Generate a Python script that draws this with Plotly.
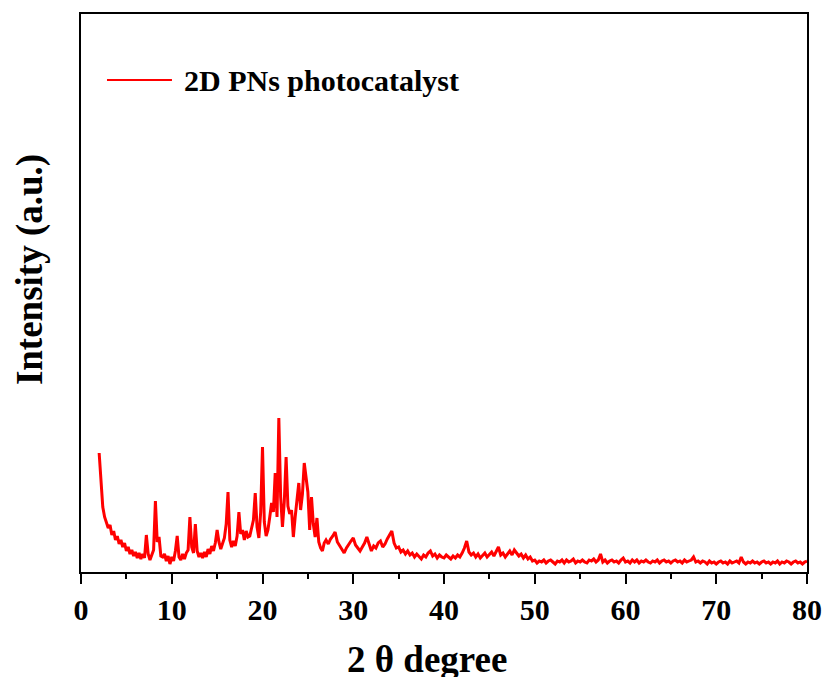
import plotly.graph_objects as go

# XRD pattern (2θ in degrees, intensity in arbitrary units)
two_theta_low = [
    2.0, 2.2, 2.4, 2.6, 2.8, 3.0, 3.2, 3.4, 3.6, 3.8, 4.0, 4.2, 4.4, 4.6, 4.8,
    5.0, 5.2, 5.4, 5.6, 5.8, 6.0, 6.2, 6.4, 6.6, 6.8, 7.0, 7.2, 7.4, 7.6, 7.8,
    8.0, 8.2, 8.4, 8.6, 8.8, 9.0, 9.2, 9.4, 9.6, 9.8, 10.0, 10.2, 10.4, 10.6, 10.8,
    11.0, 11.2, 11.4, 11.6, 11.8, 12.0, 12.2, 12.4, 12.6, 12.8, 13.0, 13.2, 13.4, 13.6, 13.8,
    14.0, 14.2, 14.4, 14.6, 14.8, 15.0, 15.2, 15.4, 15.6, 15.8, 16.0, 16.2, 16.4, 16.6, 16.8,
    17.0, 17.2, 17.4, 17.6, 17.8, 18.0, 18.2, 18.4, 18.6, 18.8, 19.0, 19.2, 19.4, 19.6, 19.8,
    20.0, 20.2, 20.4, 20.6, 20.8, 21.0, 21.2, 21.4, 21.6, 21.8, 22.0, 22.2, 22.4, 22.6, 22.8,
    23.0, 23.2, 23.4, 23.6, 23.8, 24.0, 24.2, 24.4, 24.6, 24.8, 25.0, 25.2, 25.4, 25.6, 25.8,
    26.0, 26.2, 26.4, 26.6, 26.8, 27.0,
]
intensity_low = [
    119, 90, 65, 55, 50, 44, 47, 37, 41, 32, 36, 28, 32, 25, 29,
    21, 25, 18, 22, 16, 20, 14, 19, 13, 18, 14, 37, 18, 12, 17,
    22, 71, 30, 35, 16, 15, 18, 11, 16, 8, 15, 11, 21, 36, 15,
    12, 18, 13, 19, 22, 55, 25, 19, 48, 21, 15, 19, 14, 20, 15,
    23, 18, 26, 21, 29, 42, 30, 23, 29, 34, 48, 80, 32, 25, 31,
    26, 36, 60, 38, 42, 32, 41, 35, 36, 44, 52, 79, 45, 34, 60,
    125, 50, 36, 42, 55, 69, 60, 99, 55, 154, 75, 45, 70, 115, 66,
    58, 62, 35, 55, 70, 89, 62, 78, 109, 95, 80, 42, 75, 48, 35,
    54, 30, 24, 21, 29, 32,
]
two_theta_mid = [
    27.25, 27.5, 27.75, 28.0, 28.25, 28.5, 28.75, 29.0, 29.25, 29.5, 29.75, 30.0,
    30.25, 30.5, 30.75, 31.0, 31.25, 31.5, 31.75, 32.0, 32.25, 32.5, 32.75, 33.0,
    33.25, 33.5, 33.75, 34.0, 34.25, 34.5, 34.75, 35.0, 35.25, 35.5, 35.75, 36.0,
    36.25, 36.5, 36.75, 37.0, 37.25, 37.5, 37.75, 38.0, 38.25, 38.5, 38.75, 39.0,
    39.25, 39.5, 39.75, 40.0, 40.25, 40.5, 40.75, 41.0, 41.25, 41.5, 41.75, 42.0,
    42.25, 42.5, 42.75, 43.0, 43.25, 43.5, 43.75, 44.0, 44.25, 44.5, 44.75, 45.0,
    45.25, 45.5, 45.75, 46.0, 46.25, 46.5, 46.75, 47.0, 47.25, 47.5, 47.75, 48.0,
    48.25, 48.5, 48.75, 49.0, 49.25, 49.5, 49.75, 50.0,
]
intensity_mid = [
    28, 33, 36, 40, 30, 26, 22, 19, 24, 28, 31, 34,
    27, 24, 21, 25, 29, 35, 28, 21, 26, 24, 29, 31,
    25, 28, 33, 37, 41, 29, 24, 25, 20, 22, 18, 21,
    17, 19, 15, 18, 16, 13, 17, 15, 19, 21, 16, 18,
    14, 17, 15, 14, 17, 15, 13, 16, 14, 17, 15, 19,
    24, 31, 20, 17, 19, 15, 18, 14, 17, 19, 15, 17,
    20, 16, 21, 25, 17, 19, 15, 18, 21, 17, 22, 19,
    16, 18, 14, 17, 13, 15, 11, 12,
]
two_theta_high = [
    50.25, 50.5, 50.75, 51.0, 51.25, 51.5, 51.75, 52.0, 52.25, 52.5, 52.75, 53.0,
    53.25, 53.5, 53.75, 54.0, 54.25, 54.5, 54.75, 55.0, 55.25, 55.5, 55.75, 56.0,
    56.25, 56.5, 56.75, 57.0, 57.25, 57.5, 57.75, 58.0, 58.25, 58.5, 58.75, 59.0,
    59.25, 59.5, 59.75, 60.0, 60.25, 60.5, 60.75, 61.0, 61.25, 61.5, 61.75, 62.0,
    62.25, 62.5, 62.75, 63.0, 63.25, 63.5, 63.75, 64.0, 64.25, 64.5, 64.75, 65.0,
    65.25, 65.5, 65.75, 66.0, 66.25, 66.5, 66.75, 67.0, 67.25, 67.5, 67.75, 68.0,
    68.25, 68.5, 68.75, 69.0, 69.25, 69.5, 69.75, 70.0, 70.25, 70.5, 70.75, 71.0,
    71.25, 71.5, 71.75, 72.0, 72.25, 72.5, 72.75, 73.0, 73.25, 73.5, 73.75, 74.0,
    74.25, 74.5, 74.75, 75.0, 75.25, 75.5, 75.75, 76.0, 76.25, 76.5, 76.75, 77.0,
    77.25, 77.5, 77.75, 78.0, 78.25, 78.5, 78.75, 79.0, 79.25, 79.5, 79.75, 80.0,
]
intensity_high = [
    9, 11, 10, 12, 9, 11, 12, 10, 8, 11, 10, 12,
    9, 12, 10, 11, 13, 9, 11, 10, 12, 10, 9, 12,
    11, 13, 10, 12, 18, 10, 12, 9, 11, 12, 10, 11,
    9, 12, 14, 10, 11, 9, 12, 10, 12, 9, 11, 10,
    12, 10, 9, 11, 10, 12, 9, 11, 12, 10, 11, 9,
    11, 12, 10, 11, 9, 12, 10, 11, 12, 15, 10, 11,
    9, 11, 10, 8, 11, 9, 10, 8, 10, 11, 9, 10,
    8, 11, 9, 10, 11, 9, 15, 10, 8, 10, 9, 11,
    9, 10, 8, 10, 11, 9, 10, 8, 10, 9, 11, 8,
    10, 9, 11, 10, 8, 10, 11, 9, 10, 8, 10, 11,
]
series_name = "2D PNs photocatalyst"
x_ticks = [0, 10, 20, 30, 40, 50, 60, 70, 80]

two_theta = two_theta_low + two_theta_mid + two_theta_high
intensity = intensity_low + intensity_mid + intensity_high

FONT = "Liberation Serif"

fig = go.Figure()
fig.add_trace(go.Scatter(
    x=two_theta, y=intensity, mode="lines", name=series_name,
    line=dict(color="#ff0000", width=3), showlegend=False,
))

axis_common = dict(
    showgrid=False, zeroline=False, showline=True, linecolor="black",
    linewidth=2, mirror=True, automargin=False,
)
fig.update_xaxes(
    range=[0, 80], tickvals=x_ticks, ticktext=[str(v) for v in x_ticks],
    ticks="outside", ticklen=10, tickwidth=2, tickcolor="black",
    minor=dict(dtick=5, ticks="outside", ticklen=5, tickwidth=2, tickcolor="black", showgrid=False),
    tickfont=dict(family=FONT, size=30, color="black", weight="bold"),
    **axis_common,
)
fig.update_yaxes(
    range=[0, 558], showticklabels=False, ticks="",
    **axis_common,
)

# legend drawn as a sample line + label
fig.add_shape(type="line", xref="paper", yref="paper",
              x0=0.0358, x1=0.1253, y0=0.8817, y1=0.8817,
              line=dict(color="#ff0000", width=2))
fig.add_annotation(text=series_name, xref="paper", yref="paper",
                   x=0.139, y=0.8817, xanchor="left", yanchor="middle",
                   showarrow=False,
                   font=dict(family=FONT, size=30, color="black", weight="bold"))

# axis titles
fig.add_annotation(text="2 θ degree", xref="paper", yref="paper",
                   x=0.477, y=0, xanchor="center", yanchor="middle", yshift=-87,
                   showarrow=False,
                   font=dict(family=FONT, size=37, color="black", weight="bold"))
fig.add_annotation(text="Intensity (a.u.)", xref="paper", yref="paper",
                   x=0, y=0.541, xanchor="center", yanchor="middle", xshift=-51,
                   textangle=-90, showarrow=False,
                   font=dict(family=FONT, size=37, color="black", weight="bold"))

fig.update_layout(
    width=826, height=677,
    margin=dict(l=81, r=19, t=14, b=105),
    paper_bgcolor="white", plot_bgcolor="white",
)

fig.write_html("out.html")
